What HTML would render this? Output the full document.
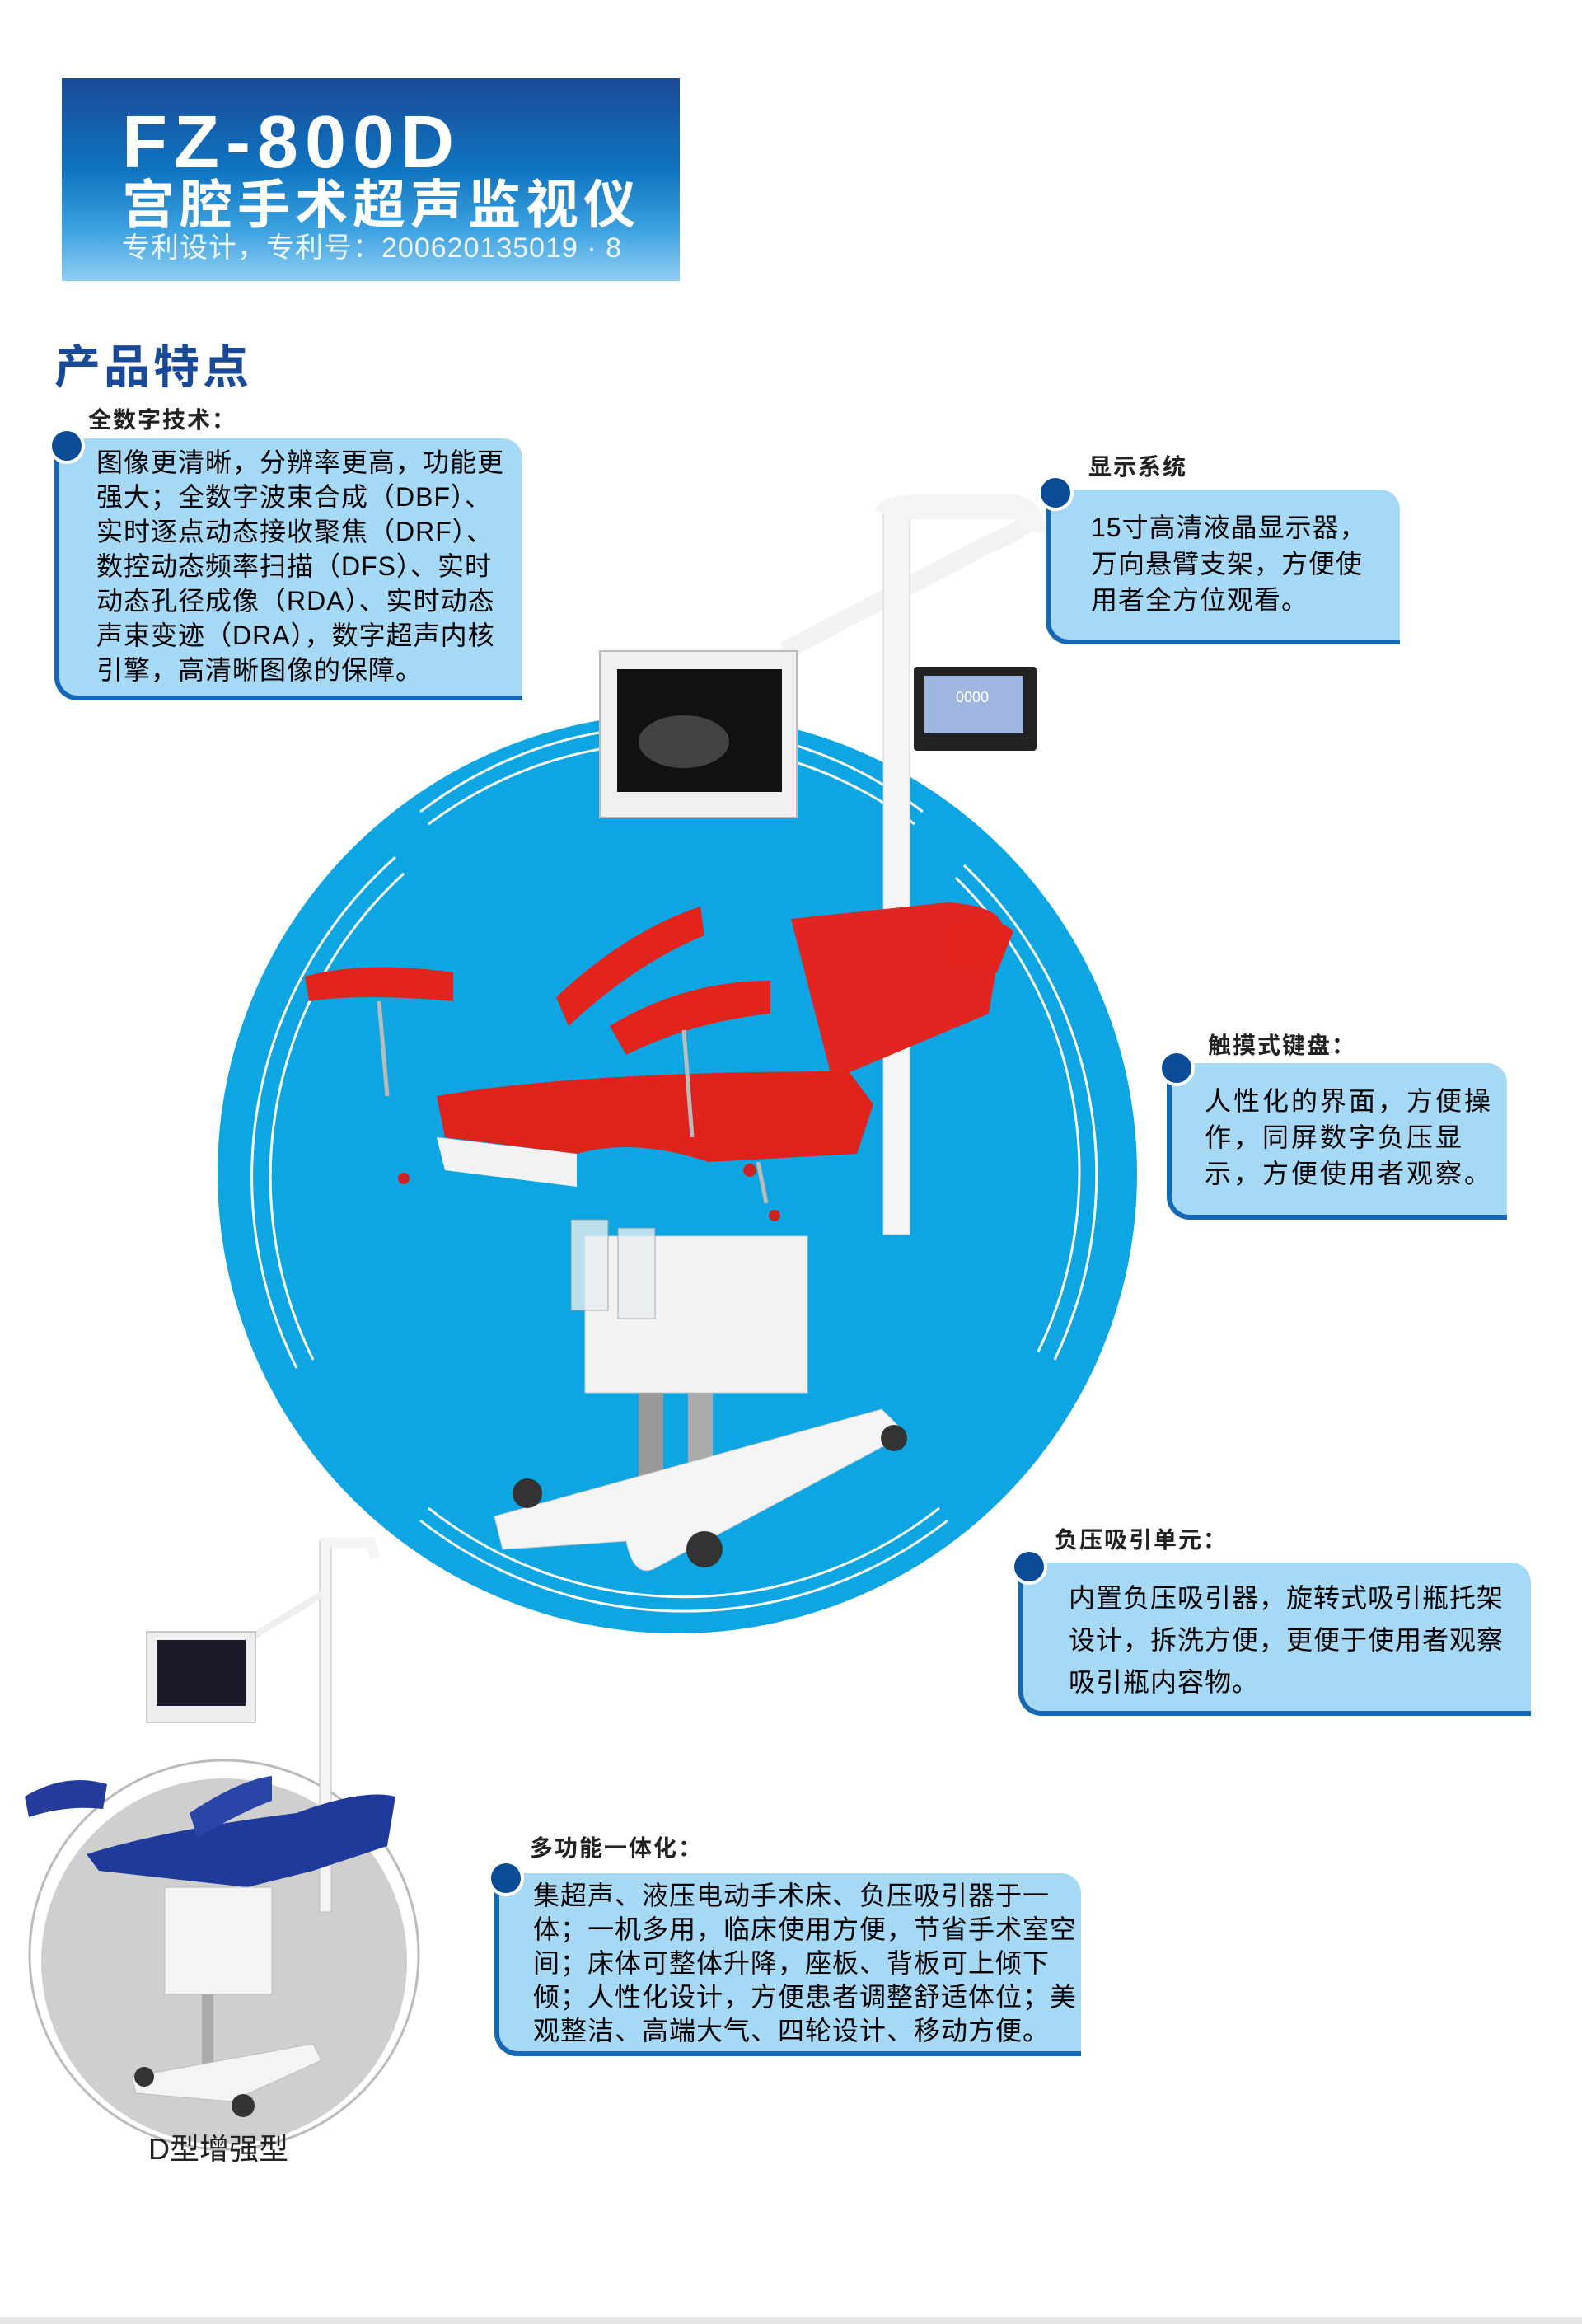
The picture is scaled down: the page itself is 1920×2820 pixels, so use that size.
<!DOCTYPE html>
<html><head><meta charset="utf-8"><style>
*{margin:0;padding:0;box-sizing:border-box}
body{width:1920px;height:2820px;background:#fff;position:relative;overflow:hidden;font-family:"Liberation Sans","Noto Sans CJK SC",sans-serif}
.a{position:absolute;line-height:1}
.banner{left:75px;top:95px;width:750px;height:246px;background:linear-gradient(180deg,#1b4a97 0%,#0f74c0 45%,#3da2e0 75%,#8fcdf2 100%)}
.box{position:absolute;background:#a6d9f6;border-left:6px solid #1768b4;border-bottom:6px solid #1768b4;border-radius:0 24px 0 28px;color:#222;font-weight:bold}
.dot{position:absolute;width:44px;height:44px;border-radius:50%;background:#0b4c97;border:4px solid #fff}
.lbl{position:absolute;font-size:28px;line-height:1;font-weight:bold;color:#222;letter-spacing:2px}
.t{position:absolute;font-size:32px;white-space:nowrap;letter-spacing:1px}
</style></head><body>
<div class="a banner"></div>
<div class="a" style="left:148px;top:128px;font-size:90px;font-weight:bold;color:#fff;letter-spacing:8px">FZ-800D</div>
<div class="a" style="left:148px;top:212px;font-size:64px;font-weight:bold;color:#fff;letter-spacing:6px;font-family:'Noto Sans CJK SC',sans-serif">宫腔手术超声监视仪</div>
<div class="a" style="left:148px;top:284px;font-size:34px;color:#eef6ff;letter-spacing:1px">专利设计，专利号：200620135019 · 8</div>
<div class="a" style="left:66px;top:414px;font-size:56px;font-weight:bold;color:#1a4a97;font-family:'Noto Sans CJK SC',sans-serif;letter-spacing:4px">产品特点</div>

<svg class="a" style="left:0;top:0" width="1920" height="2820">
<circle cx="822" cy="1424" r="558" fill="#0ea6e2"/>
<g fill="none" stroke="#fff" stroke-width="3">
<path d="M510 985 A500 500 0 0 1 1120 985"/><path d="M520 1000 A490 490 0 0 1 1110 1000"/>
<path d="M360 1660 A520 520 0 0 1 480 1040"/><path d="M380 1650 A500 500 0 0 1 490 1060"/>
<path d="M1280 1650 A520 520 0 0 0 1170 1050"/><path d="M1260 1640 A500 500 0 0 0 1160 1065"/>
<path d="M510 1845 A520 520 0 0 0 1150 1845"/><path d="M520 1830 A500 500 0 0 0 1140 1830"/>
</g>
<path d="M952 790 L1200 660 Q1250 640 1250 628 L1252 625" stroke="#f2f2f2" stroke-width="22" fill="none"/>
<rect x="1072" y="618" width="32" height="880" fill="#f4f4f4" stroke="#ccc"/>
<path d="M1075 625 Q1080 615 1120 615 L1230 615 Q1255 620 1252 645" stroke="#f4f4f4" stroke-width="30" fill="none"/>
<rect x="728" y="790" width="239" height="202" fill="#f0f0f0" stroke="#bbb" stroke-width="2"/>
<rect x="749" y="812" width="200" height="149" fill="#111"/>
<ellipse cx="830" cy="900" rx="55" ry="32" fill="#666" opacity=".6"/>
<rect x="1109" y="809" width="149" height="102" rx="4" fill="#222"/>
<rect x="1122" y="820" width="120" height="70" fill="#9fb6e0"/>
<text x="1160" y="852" font-size="18" fill="#fff" font-family="Liberation Sans">0000</text>
<rect x="710" y="1500" width="270" height="190" fill="#f2f2f2" stroke="#ccc"/>
<rect x="775" y="1690" width="30" height="140" fill="#999"/><rect x="835" y="1690" width="30" height="110" fill="#aaa"/>
<path d="M600 1840 L1070 1710 L1100 1740 L800 1900 Q770 1920 760 1870 L610 1880 Z" fill="#f4f4f4" stroke="#ccc"/>
<circle cx="855" cy="1880" r="22" fill="#333"/><circle cx="640" cy="1812" r="18" fill="#333"/><circle cx="1085" cy="1745" r="16" fill="#333"/>
<rect x="693" y="1480" width="45" height="110" fill="#e8eef2" opacity=".8" stroke="#999"/>
<rect x="750" y="1490" width="45" height="110" fill="#e8eef2" opacity=".8" stroke="#999"/>
<path d="M960 1115 L1150 1095 Q1230 1100 1215 1140 L1200 1230 L1010 1310 Z" fill="#e12520"/>
<path d="M530 1330 Q700 1300 1030 1300 L1060 1340 L1040 1400 L860 1410 Q770 1380 700 1400 L540 1380 Z" fill="#e0221c"/>
<path d="M530 1380 L700 1400 L700 1440 L540 1420 Z" fill="#f2f2f2"/>
<path d="M370 1185 Q440 1165 550 1180 L550 1215 Q440 1205 375 1215 Z" fill="#e3241d"/>
<path d="M675 1210 Q760 1130 850 1100 L855 1135 Q770 1170 690 1245 Z" fill="#e3241d"/>
<path d="M740 1245 Q830 1190 935 1190 L935 1230 Q840 1240 760 1280 Z" fill="#e3241d"/>
<path d="M1150 1120 Q1210 1110 1230 1130 L1210 1180 L1150 1170 Z" fill="#e3241d"/>
<g stroke="#bbb" stroke-width="5"><line x1="460" y1="1215" x2="470" y2="1330"/><line x1="830" y1="1250" x2="840" y2="1380"/><line x1="920" y1="1410" x2="930" y2="1460"/></g>
<circle cx="490" cy="1430" r="7" fill="#c22"/><circle cx="910" cy="1420" r="8" fill="#c22"/><circle cx="940" cy="1475" r="7" fill="#c22"/>

<circle cx="272" cy="2372" r="236" fill="#fff" stroke="#bbb" stroke-width="3"/>
<circle cx="272" cy="2380" r="222" fill="#cfcfcf"/>
<rect x="388" y="1870" width="14" height="450" fill="#f4f4f4" stroke="#bbb"/>
<path d="M395 1880 L395 1872 L450 1872 L455 1890" stroke="#f4f4f4" stroke-width="12" fill="none"/>
<line x1="300" y1="1990" x2="390" y2="1935" stroke="#eee" stroke-width="8"/>
<rect x="178" y="1980" width="132" height="110" fill="#eee" stroke="#999"/>
<rect x="190" y="1990" width="108" height="80" fill="#1a1a2a"/>
<path d="M30 2180 Q80 2150 130 2165 L125 2195 Q80 2190 35 2205 Z" fill="#253c9c"/>
<path d="M105 2250 Q200 2220 360 2200 Q440 2170 480 2180 L470 2240 L380 2270 L300 2290 L120 2270 Z" fill="#1f3a9a"/>
<path d="M230 2200 Q290 2160 330 2155 L330 2185 Q290 2200 240 2230 Z" fill="#2a45a8"/>
<rect x="200" y="2290" width="130" height="130" fill="#f4f4f4" stroke="#bbb"/>
<rect x="245" y="2420" width="14" height="90" fill="#aaa"/>
<path d="M160 2520 L380 2480 L390 2500 L280 2550 L165 2540 Z" fill="#f4f4f4" stroke="#bbb"/>
<circle cx="175" cy="2520" r="12" fill="#333"/><circle cx="295" cy="2555" r="14" fill="#333"/>
</svg>
<div class="a" style="left:180px;top:2590px;font-size:36px;color:#222">D型增强型</div>

<div class="lbl" style="left:107px;top:496px">全数字技术：</div>
<div class="box" style="left:66px;top:532px;width:568px;height:318px"></div>
<div class="dot" style="left:59px;top:519px"></div>
<div class="t" style="left:117px;top:540px;line-height:42px">图像更清晰，分辨率更高，功能更<br>强大；全数字波束合成（DBF）、<br>实时逐点动态接收聚焦（DRF）、<br>数控动态频率扫描（DFS）、实时<br>动态孔径成像（RDA）、实时动态<br>声束变迹（DRA），数字超声内核<br>引擎，高清晰图像的保障。</div>

<div class="lbl" style="left:1321px;top:553px">显示系统</div>
<div class="box" style="left:1269px;top:594px;width:430px;height:188px"></div>
<div class="dot" style="left:1259px;top:576px"></div>
<div class="t" style="left:1324px;top:618px;line-height:44px">15寸高清液晶显示器，<br>万向悬臂支架，方便使<br>用者全方位观看。</div>

<div class="lbl" style="left:1466px;top:1255px">触摸式键盘：</div>
<div class="box" style="left:1416px;top:1290px;width:413px;height:190px"></div>
<div class="dot" style="left:1406px;top:1274px"></div>
<div class="t" style="left:1462px;top:1314px;line-height:44px;letter-spacing:3px">人性化的界面，方便操<br>作，同屏数字负压显<br>示，方便使用者观察。</div>

<div class="lbl" style="left:1280px;top:1855px">负压吸引单元：</div>
<div class="box" style="left:1236px;top:1896px;width:622px;height:186px"></div>
<div class="dot" style="left:1227px;top:1879px"></div>
<div class="t" style="left:1297px;top:1914px;line-height:51px">内置负压吸引器，旋转式吸引瓶托架<br>设计，拆洗方便，更便于使用者观察<br>吸引瓶内容物。</div>

<div class="lbl" style="left:643px;top:2229px">多功能一体化：</div>
<div class="box" style="left:600px;top:2273px;width:712px;height:222px"></div>
<div class="dot" style="left:592px;top:2257px"></div>
<div class="t" style="left:647px;top:2280px;line-height:41px">集超声、液压电动手术床、负压吸引器于一<br>体；一机多用，临床使用方便，节省手术室空<br>间；床体可整体升降，座板、背板可上倾下<br>倾；人性化设计，方便患者调整舒适体位；美<br>观整洁、高端大气、四轮设计、移动方便。</div>
<div class="a" style="left:0;top:2812px;width:1920px;height:8px;background:#e6e6e6"></div>
</body></html>
